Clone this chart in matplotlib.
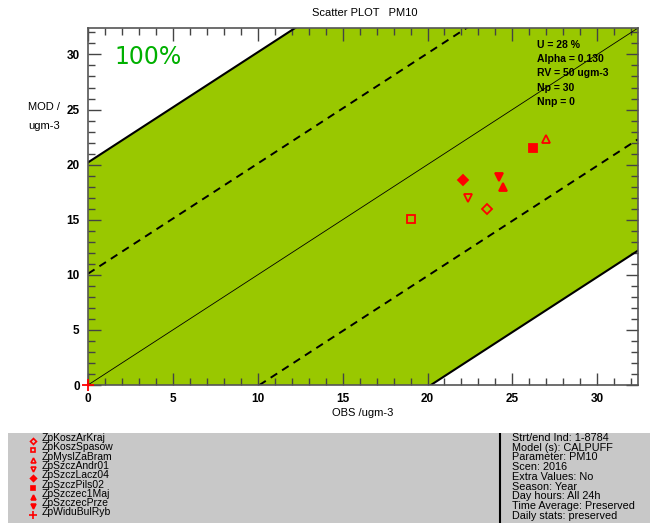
import numpy as np
import matplotlib
matplotlib.use("Agg")
import matplotlib.pyplot as plt

plt.rcParams['font.family'] = ['Liberation Sans', 'DejaVu Sans']

# station data (OBS, MOD)
stations = ["ZpKoszArKraj", "ZpKoszSpasow", "ZpMyslZaBram", "ZpSzczAndr01", "ZpSzczLacz04",
            "ZpSzczPils02", "ZpSzczec1Maj", "ZpSzczecPrze", "ZpWiduBulRyb"]
obs = [23.5, 19.05, 27.0, 22.4, 22.1, 26.2, 24.45, 24.2, 0.0]
mod = [16.0, 15.1, 22.3, 17.0, 18.6, 21.5, 18.0, 18.9, 0.0]
markers = ["D", "s", "^", "v", "D", "s", "^", "v", "+"]
filled = [False, False, False, False, True, True, True, True, True]

band_limit = 20.2
dash_limit = 10.1
axis_max = 32.4

info_lines = ["U = 28 %", "Alpha = 0.130", "RV = 50 ugm-3", "Np = 30", "Nnp = 0"]
meta_lines = ["Strt/end Ind: 1-8784", "Model (s): CALPUFF", "Parameter: PM10", "Scen: 2016",
              "Extra Values: No", "Season: Year", "Day hours: All 24h",
              "Time Average: Preserved", "Daily stats: preserved"]

W, H = 650, 523
fig = plt.figure(figsize=(W / 100, H / 100), dpi=100)
fig.patch.set_facecolor("white")

ax = fig.add_axes([88 / W, (H - 385) / H, (638 - 88) / W, (385 - 28) / H])
ax.set_xlim(0, axis_max)
ax.set_ylim(0, axis_max)

xs = np.array([0, axis_max])
ax.fill_between(xs, xs - band_limit, xs + band_limit, color="#99c800", lw=0, zorder=1)
ax.plot(xs, xs + band_limit, color="black", lw=1.5, zorder=2)
ax.plot(xs, xs - band_limit, color="black", lw=1.5, zorder=2)
ax.plot(xs, xs + dash_limit, color="black", lw=1.4, dashes=(4, 3), zorder=2)
ax.plot(xs, xs - dash_limit, color="black", lw=1.4, dashes=(4, 3), zorder=2)
ax.plot(xs, xs, color="black", lw=0.6, zorder=2)

for o, m, mk, f in zip(obs, mod, markers, filled):
    ax.plot(o, m, marker=mk, color="red", ms=8 if mk == "+" else (5 if mk == "D" else 6),
            mfc="red" if f else "none", mec="red", mew=1.3, ls="none", zorder=4, clip_on=False)

ax.set_xticks(np.arange(0, 31, 5))
ax.set_yticks(np.arange(0, 31, 5))
ax.set_xticks(np.arange(0, 33, 1), minor=True)
ax.set_yticks(np.arange(0, 33, 1), minor=True)
ax.tick_params(which="both", direction="in", top=True, right=True, color="#444444",
               labelsize=8.5, pad=6)
ax.tick_params(which="major", length=9, width=1)
ax.tick_params(which="minor", length=5, width=1)
for lab in ax.get_xticklabels() + ax.get_yticklabels():
    lab.set_fontweight("bold")
for sp in ax.spines.values():
    sp.set_color("#555555")
    sp.set_linewidth(1.2)
    sp.set_zorder(3)

ax.set_xlabel("OBS /ugm-3", fontsize=8, labelpad=2)
fig.text(28 / W, 1 - 107 / H, "MOD /", fontsize=8, va="center", ha="left")
fig.text(28 / W, 1 - 126 / H, "ugm-3", fontsize=8, va="center", ha="left")
fig.text(365 / W, 1 - 13 / H, "Scatter PLOT   PM10", fontsize=8, ha="center", va="center")

fig.text(114 / W, 1 - 57 / H, "100%", color="#00b000", fontsize=17,
         family="DejaVu Sans", va="center", ha="left")
for i, line in enumerate(info_lines):
    fig.text(537 / W, 1 - (45 + i * 14.2) / H, line, fontsize=7.5, fontweight="bold",
             va="center", ha="left")

# bottom legend / info panel
panel = fig.add_axes([8 / W, 0, (W - 8) / W, (H - 433) / H])
panel.set_facecolor("#c8c8c8")
panel.set_xlim(8, W)
panel.set_ylim(H, 433)
panel.set_xticks([])
panel.set_yticks([])
for sp in panel.spines.values():
    sp.set_visible(False)
panel.axvline(500, color="black", lw=1.5)

row0, row_step = 438, 9.3
for i, (name, mk, f) in enumerate(zip(stations, markers, filled)):
    y = row0 + i * row_step
    size = 6 if mk == "+" else (3 if mk == "D" else 3.5)
    panel.plot(33, y + 3, marker=mk, color="red", ms=size,
               mfc="red" if f else "none", mec="red", mew=1.2, ls="none")
    panel.text(42, y, name, fontsize=7.5, va="center", ha="left")
for i, line in enumerate(meta_lines):
    panel.text(512, row0 + i * 9.7, line, fontsize=7.8, va="center", ha="left")

fig.savefig("out.png", dpi=100)
